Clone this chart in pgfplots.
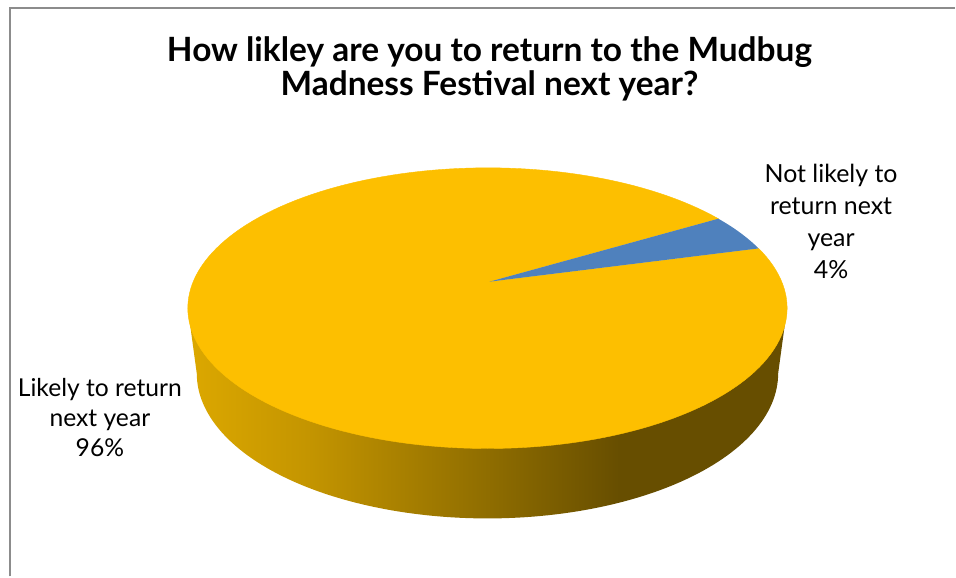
\documentclass[border=0pt]{standalone}
\usepackage{pgfplots}
\usepackage{pgfplotstable}
\usepackage{fontspec}
\setmainfont{Lato}
\pgfplotsset{compat=1.18}

\definecolor{frameGray}{HTML}{8C8C8C}
\definecolor{sliceGold}{HTML}{FDBF00}
\definecolor{sliceBlue}{HTML}{4F81BD}
\definecolor{sideA}{HTML}{DCA800}
\definecolor{sideB}{HTML}{C49500}
\definecolor{sideC}{HTML}{8F6D00}
\definecolor{sideD}{HTML}{674E00}

% Rim of the pie, light on the left and darkening to the right
\pgfdeclarehorizontalshading{rimshade}{100bp}{%
  color(0bp)=(sideA); color(25bp)=(sideA); color(35bp)=(sideB);
  color(50bp)=(sideC); color(61bp)=(sideD); color(100bp)=(sideD)}

\pgfplotstableread{
share
4
96
}\responses

\pgfplotstablegetelem{0}{share}\of\responses
\let\shareNot\pgfplotsretval
\pgfplotstablegetelem{1}{share}\of\responses
\let\shareLikely\pgfplotsretval

\begin{document}
\begin{tikzpicture}
\pgfmathsetmacro{\startA}{25.2}
\pgfmathsetmacro{\endA}{\startA+3.6*\shareNot}
\pgfmathsetmacro{\endB}{\endA+3.6*\shareLikely}
\begin{axis}[
  scale only axis, width=717pt, height=432.75pt,
  xmin=0, xmax=956, ymin=0, ymax=577, y dir=reverse,
  hide axis, clip=false,
]
% keep the full canvas in the page box, since the hidden axis adds nothing
\path (axis cs:0,0) rectangle (axis cs:956,577);

% chart frame: only the top and left edges fall inside the view
\draw[frameGray, line width=1.6pt] (axis cs:10,577) -- (axis cs:10,8) -- (axis cs:956,8);

% rim
\addplot[shading=rimshade, draw=none, domain=0:180, samples=121]
  ({488+291*cos(x)},{374+145*sin(x)})
  -- (axis cs:188,308) -- (axis cs:788,308) -- cycle;

% slices on the top face
\addplot[fill=sliceGold, draw=sliceGold, line width=0.3pt, domain=\endA:\endB, samples=181]
  ({488+300*cos(x)},{308.5-140.5*sin(x)}) -- (axis cs:490,282) -- cycle;
\addplot[fill=sliceBlue, draw=none, domain=\startA:\endA, samples=21]
  ({488+300*cos(x)},{308.5-140.5*sin(x)}) -- (axis cs:490,282) -- cycle;

% title and data labels
\node[align=center, font=\fontsize{25.1}{25.5}\selectfont\bfseries] at (axis cs:490,69)
  {How likley are you to return to the Mudbug\\Madness Festival next year?};
\node[align=center, font=\fontsize{18.7}{24}\selectfont] at (axis cs:832,222)
  {Not likely to\\return next\\year\\\shareNot\%};
\node[align=center, font=\fontsize{18.5}{22.5}\selectfont] at (axis cs:100,418)
  {Likely to return\\next year\\\shareLikely\%};
\end{axis}
\end{tikzpicture}
\end{document}
